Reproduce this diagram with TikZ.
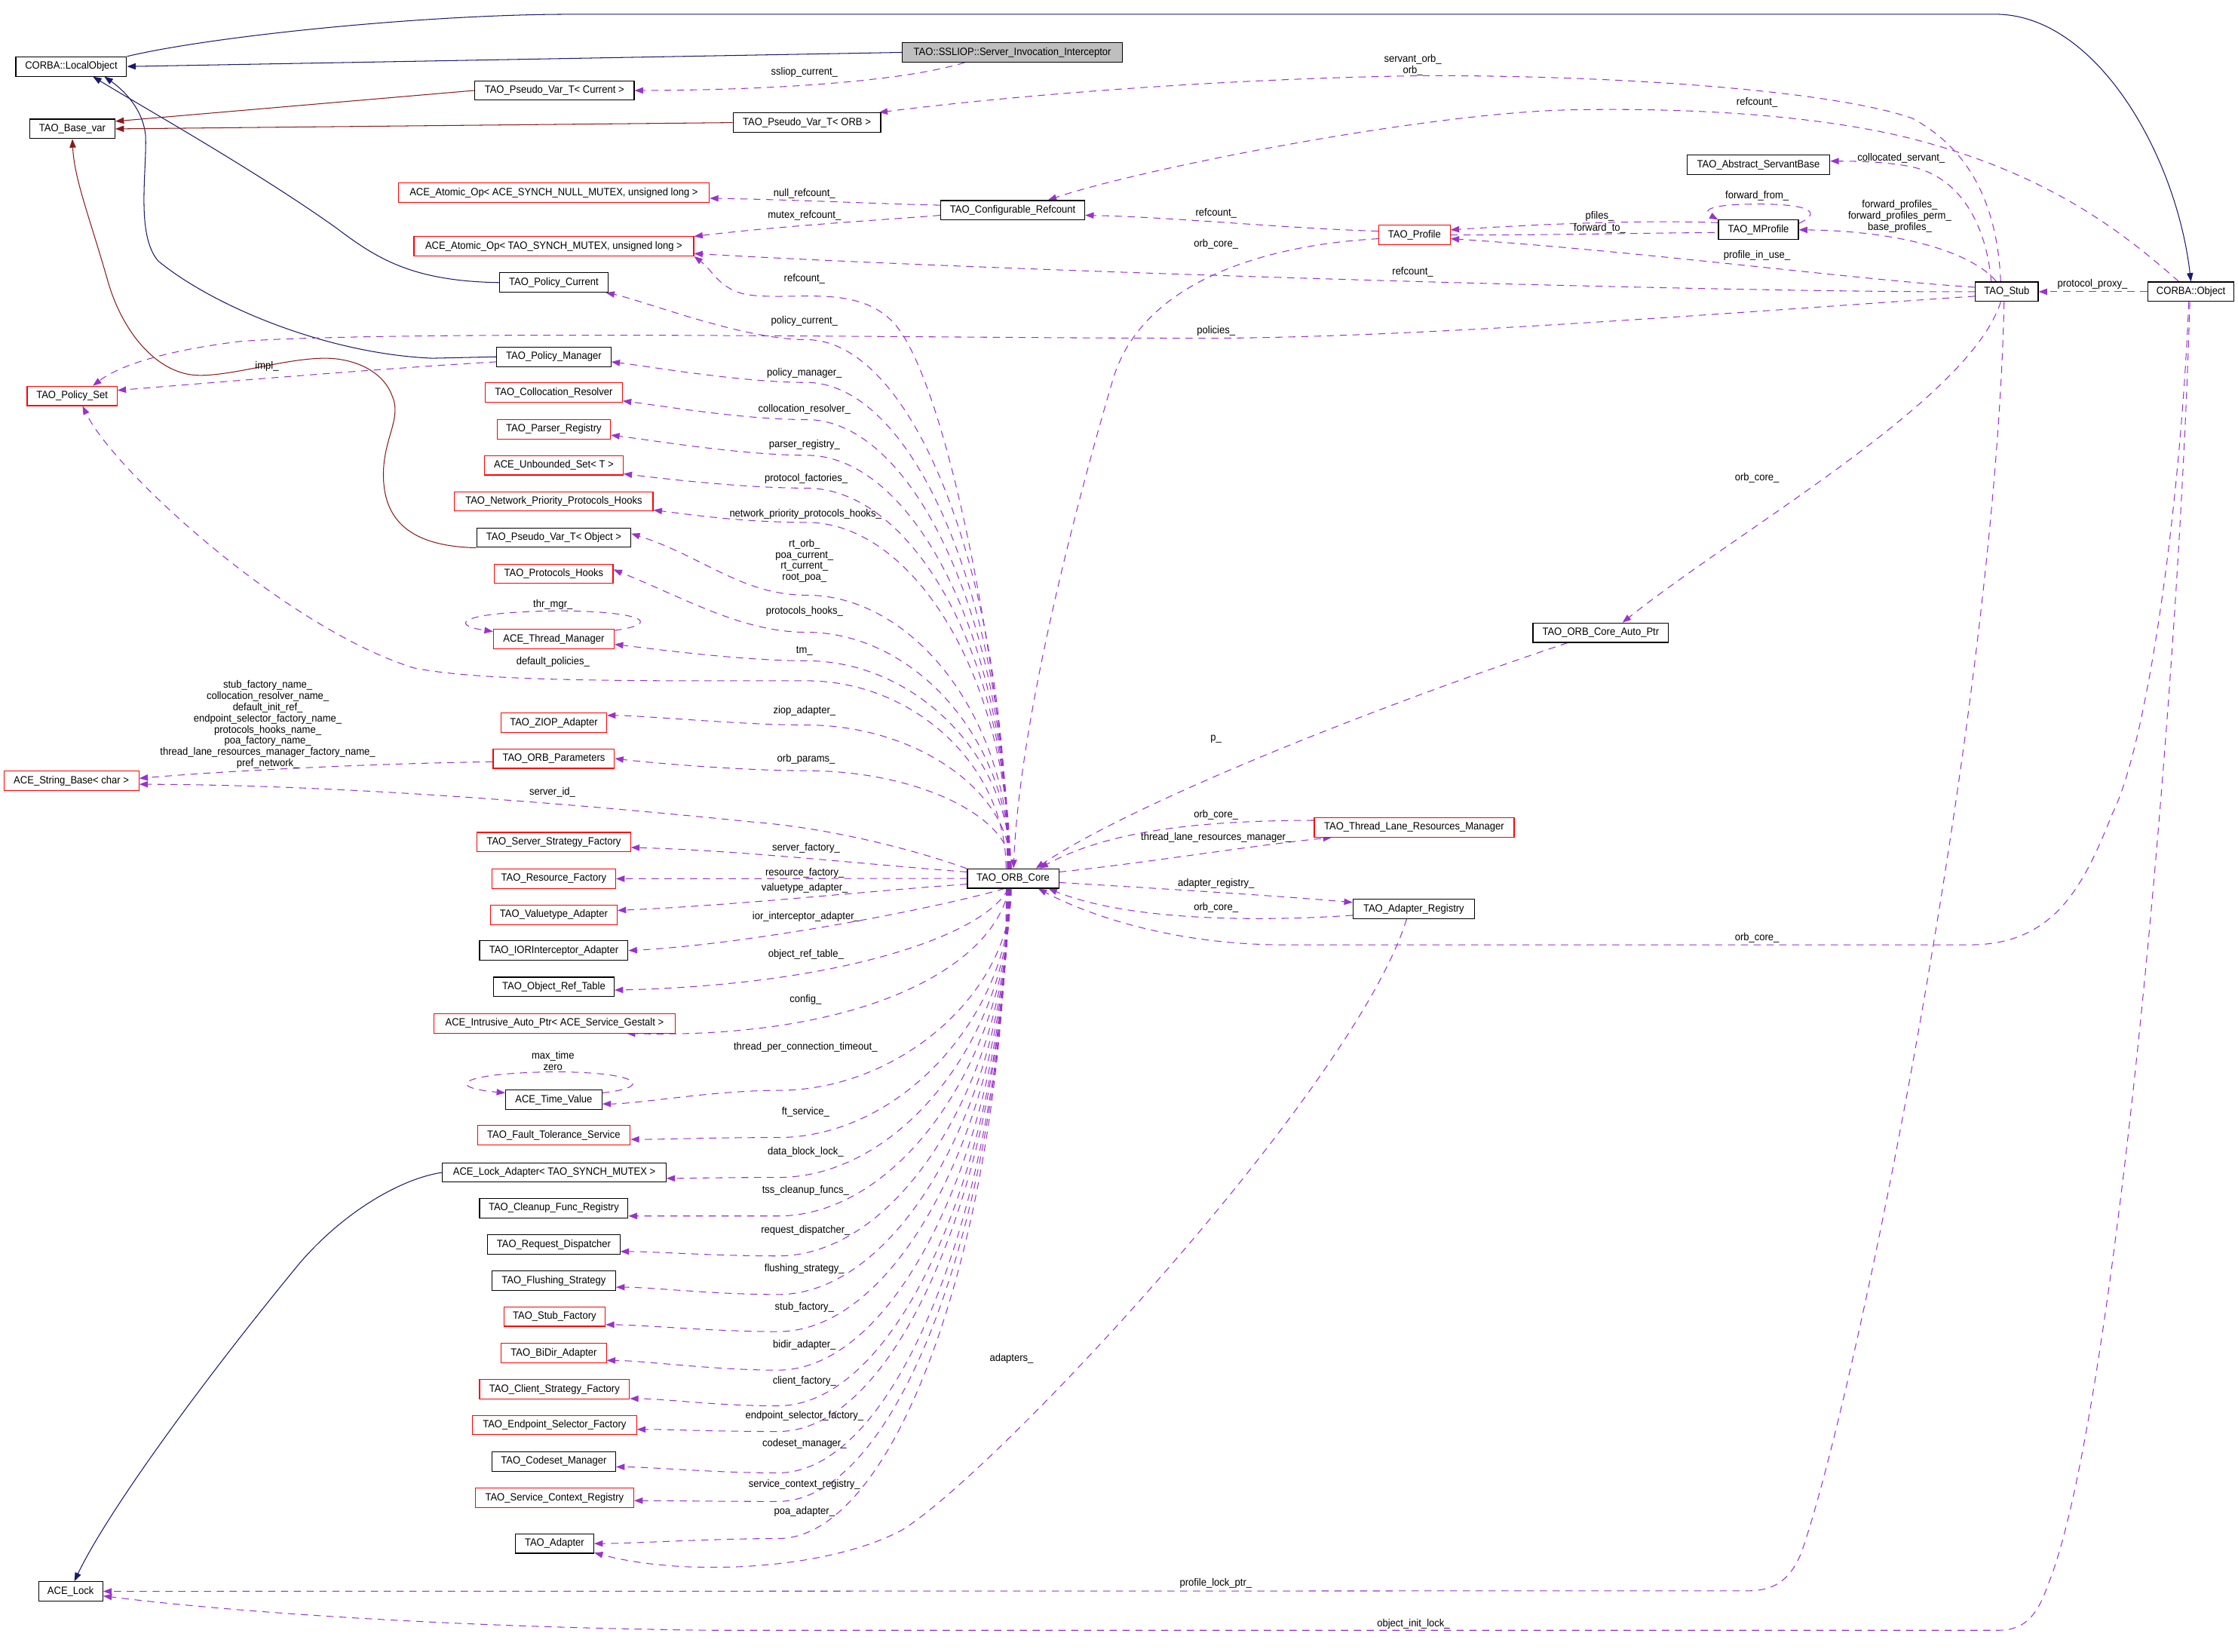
\documentclass[tikz,border=0pt]{standalone}
\usepackage{fontspec}
\newfontfamily\dfont{Liberation Sans}[FakeStretch=0.93]
\usetikzlibrary{arrows.meta,calc}
\definecolor{mblue}{HTML}{191970}
\definecolor{dred}{HTML}{8B1A1A}
\definecolor{orch}{HTML}{9A32CD}
\definecolor{gfill}{HTML}{BFBFBF}
\pgfdeclarelayer{bg}
\pgfdeclarelayer{edges}
\pgfsetlayers{bg,edges,main}
\newcommand{\oup}[4]{\draw[mem] (orb.#1) .. controls ($(orb.#1)+(0,{0.55*(608.6-#2)})$) and (640,-#2) .. (565,-#2) .. controls (520,-#2) and ($(#3)+(#4)$) .. (#3);}
\newcommand{\odown}[4]{\draw[mem] (orb.#1) .. controls ($(orb.#1)+(0,{-0.5*(#2-622.3)})$) and (632,-#2) .. (545,-#2) .. controls (500,-#2) and ($(#3)+(#4)$) .. (#3);}
\begin{document}
\begin{tikzpicture}[x=1pt,y=1pt,
  box/.style={draw=black, fill=white, line width=0.6pt, minimum height=13.6pt, inner xsep=1pt, inner ysep=0pt, font=\dfont\fontsize{7.4}{8}\selectfont},
  rbox/.style={box, draw=red},
  lab/.style={font=\dfont\fontsize{7.4}{7.8}\selectfont, inner sep=0pt, align=center},
  inhB/.style={draw=mblue, line width=0.55pt, -{Triangle[length=6pt,width=4.4pt]}},
  inhR/.style={draw=dred, line width=0.55pt, -{Triangle[length=6pt,width=4.4pt]}},
  mem/.style={draw=orch, line width=0.55pt, dash pattern=on 5pt off 4pt, -{Triangle[length=6pt,width=4.4pt]}}
]
\begin{pgfonlayer}{bg}
\fill[white] (0,0) rectangle (1568,-1157.5);
\end{pgfonlayer}
\useasboundingbox (0,0) rectangle (1568,-1157.5);

% ---------- nodes ----------
\node[box, minimum width=77.6pt] (lobj) at (49.9,-46.6) {CORBA::LocalObject};
\node[box, fill=gfill, minimum width=154pt] (ssliop) at (709.3,-36.7) {TAO::SSLIOP::Server\_Invocation\_Interceptor};
\node[box, minimum width=111.8pt] (pvcur) at (388.4,-63.4) {TAO\_Pseudo\_Var\_T< Current >};
\node[box, minimum width=59.6pt] (basevar) at (50.7,-90.3) {TAO\_Base\_var};
\node[box, minimum width=103.5pt] (pvorb) at (565.3,-85.9) {TAO\_Pseudo\_Var\_T< ORB >};
\node[rbox, minimum width=218pt] (aonull) at (388,-135.1) {ACE\_Atomic\_Op< ACE\_SYNCH\_NULL\_MUTEX, unsigned long >};
\node[rbox, minimum width=196pt] (aomutex) at (388,-172.5) {ACE\_Atomic\_Op< TAO\_SYNCH\_MUTEX, unsigned long >};
\node[box, minimum width=76pt] (polcur) at (388,-198) {TAO\_Policy\_Current};
\node[box, minimum width=80pt] (polmgr) at (388,-250) {TAO\_Policy\_Manager};
\node[rbox, minimum width=63pt] (polset) at (50.5,-277.4) {TAO\_Policy\_Set};
\node[rbox, minimum width=96pt] (collres) at (388,-275) {TAO\_Collocation\_Resolver};
\node[box, minimum width=101pt] (cfgref) at (709.5,-147.3) {TAO\_Configurable\_Refcount};
\node[rbox, minimum width=50pt] (profile) at (991,-164.6) {TAO\_Profile};
\node[box, minimum width=100pt] (servant) at (1232,-115.5) {TAO\_Abstract\_ServantBase};
\node[box, minimum width=56pt] (mprof) at (1232,-161) {TAO\_MProfile};
\node[box, minimum width=44pt] (stub) at (1406,-204.4) {TAO\_Stub};
\node[box, minimum width=60.5pt] (cobj) at (1535,-204.4) {CORBA::Object};
\node[rbox, minimum width=79.5pt] (parser) at (388,-300.7) {TAO\_Parser\_Registry};
\node[rbox, minimum width=97pt] (unbset) at (388,-326) {ACE\_Unbounded\_Set< T >};
\node[rbox, minimum width=139pt] (nethooks) at (388,-351.3) {TAO\_Network\_Priority\_Protocols\_Hooks};
\node[box, minimum width=108pt] (pvobj) at (388,-376.7) {TAO\_Pseudo\_Var\_T< Object >};
\node[rbox, minimum width=83pt] (prothooks) at (388,-402) {TAO\_Protocols\_Hooks};
\node[rbox, minimum width=84.6pt] (thrmgr) at (388,-447.7) {ACE\_Thread\_Manager};
\node[rbox, minimum width=74pt] (ziop) at (388,-506.5) {TAO\_ZIOP\_Adapter};
\node[rbox, minimum width=85pt] (orbparams) at (388,-531.5) {TAO\_ORB\_Parameters};
\node[rbox, minimum width=94.6pt] (strbase) at (50,-547) {ACE\_String\_Base< char >};
\node[rbox, minimum width=107.5pt] (srvstrat) at (388,-590) {TAO\_Server\_Strategy\_Factory};
\node[rbox, minimum width=86.6pt] (resfac) at (388,-615.7) {TAO\_Resource\_Factory};
\node[rbox, minimum width=88.6pt] (valtype) at (388,-641) {TAO\_Valuetype\_Adapter};
\node[box, minimum width=104pt] (iorint) at (388,-666) {TAO\_IORInterceptor\_Adapter};
\node[box, minimum width=84.5pt] (objref) at (388,-691.5) {TAO\_Object\_Ref\_Table};
\node[rbox, minimum width=169pt] (intrusive) at (388.5,-717) {ACE\_Intrusive\_Auto\_Ptr< ACE\_Service\_Gestalt >};
\node[box, minimum width=67.5pt] (timeval) at (388,-770.5) {ACE\_Time\_Value};
\node[rbox, minimum width=107pt] (ftserv) at (388,-795.5) {TAO\_Fault\_Tolerance\_Service};
\node[box, minimum width=156.6pt] (lockadp) at (388.3,-821.5) {ACE\_Lock\_Adapter< TAO\_SYNCH\_MUTEX >};
\node[box, minimum width=104pt] (cleanup) at (388,-846.5) {TAO\_Cleanup\_Func\_Registry};
\node[box, minimum width=92.6pt] (reqdisp) at (388,-872) {TAO\_Request\_Dispatcher};
\node[box, minimum width=86.7pt] (flush) at (388,-897.3) {TAO\_Flushing\_Strategy};
\node[rbox, minimum width=71pt] (stubfac) at (388.5,-922.5) {TAO\_Stub\_Factory};
\node[rbox, minimum width=73.6pt] (bidir) at (388,-948) {TAO\_BiDir\_Adapter};
\node[rbox, minimum width=105pt] (clifac) at (388.5,-973.5) {TAO\_Client\_Strategy\_Factory};
\node[rbox, minimum width=115pt] (endpt) at (388.5,-998.5) {TAO\_Endpoint\_Selector\_Factory};
\node[box, minimum width=86.7pt] (codeset) at (388,-1024) {TAO\_Codeset\_Manager};
\node[rbox, minimum width=111pt] (servctx) at (388.5,-1049.5) {TAO\_Service\_Context\_Registry};
\node[box, minimum width=55pt] (adapter) at (388.5,-1081.5) {TAO\_Adapter};
\node[box, minimum width=45pt] (acelock) at (49.5,-1115) {ACE\_Lock};
\node[box, minimum width=64pt] (orb) at (709.8,-615.5) {TAO\_ORB\_Core};
\node[rbox, minimum width=140pt] (tlrm) at (990.8,-579.7) {TAO\_Thread\_Lane\_Resources\_Manager};
\node[box, minimum width=85pt] (adreg) at (990.5,-636.8) {TAO\_Adapter\_Registry};
\node[box, minimum width=95pt] (autoptr) at (1121.5,-443.3) {TAO\_ORB\_Core\_Auto\_Ptr};

% ---------- labels ----------
\node[lab] (lssl) at (563.6,-50.6) {ssliop\_current\_};
\node[lab] (lsorb) at (989.8,-45.5) {servant\_orb\_\\orb\_};
\node[lab] (lrc1) at (1231,-72) {refcount\_};
\node[lab] (lcol) at (1332,-110.9) {collocated\_servant\_};
\node[lab] (lnull) at (563.6,-135.5) {null\_refcount\_};
\node[lab] (lfwf) at (1231,-137) {forward\_from\_};
\node[lab] (lmutex) at (563.6,-150.9) {mutex\_refcount\_};
\node[lab] (lrc2) at (852,-149.4) {refcount\_};
\node[lab] (lpf) at (1120.8,-151.3) {pfiles\_};
\node[lab] (lfwt) at (1120.8,-159.8) {forward\_to\_};
\node[lab] (lfp) at (1331,-151.5) {forward\_profiles\_\\forward\_profiles\_perm\_\\base\_profiles\_};
\node[lab] (loc1) at (852,-171) {orb\_core\_};
\node[lab] (lrc3) at (989.8,-190.5) {refcount\_};
\node[lab] (lpiu) at (1230.9,-179.2) {profile\_in\_use\_};
\node[lab] (lrc4) at (563.6,-195.6) {refcount\_};
\node[lab] (lpp) at (1466,-199) {protocol\_proxy\_};
\node[lab] (lpc) at (563.6,-225) {policy\_current\_};
\node[lab] (lpol) at (852,-232) {policies\_};
\node[lab] (limpl) at (187,-256.6) {impl\_};
\node[lab] (lpm) at (563.6,-261.3) {policy\_manager\_};
\node[lab] (lcr) at (563.6,-286.8) {collocation\_resolver\_};
\node[lab] (lprs) at (563.6,-311.7) {parser\_registry\_};
\node[lab] (lpf2) at (564.8,-335.3) {protocol\_factories\_};
\node[lab] (lnph) at (564.3,-360.2) {network\_priority\_protocols\_hooks\_};
\node[lab] (lrto) at (563.6,-393) {rt\_orb\_\\poa\_current\_\\rt\_current\_\\root\_poa\_};
\node[lab] (loc5) at (1231,-334.7) {orb\_core\_};
\node[lab] (lph) at (563.6,-428.3) {protocols\_hooks\_};
\node[lab] (lthr) at (387.4,-423.5) {thr\_mgr\_};
\node[lab] (ltm) at (563.6,-456) {tm\_};
\node[lab] (ldp) at (387.4,-464) {default\_policies\_};
\node[lab] (lsfn) at (187.6,-507.7) {stub\_factory\_name\_\\collocation\_resolver\_name\_\\default\_init\_ref\_\\endpoint\_selector\_factory\_name\_\\protocols\_hooks\_name\_\\poa\_factory\_name\_\\thread\_lane\_resources\_manager\_factory\_name\_\\pref\_network\_};
\node[lab] (lziop) at (563.6,-498) {ziop\_adapter\_};
\node[lab] (lp) at (852,-517.7) {p\_};
\node[lab] (lop) at (564.8,-531.9) {orb\_params\_};
\node[lab] (lsid) at (387,-555) {server\_id\_};
\node[lab] (loc2) at (852,-571) {orb\_core\_};
\node[lab] (ltlrm) at (852,-586.7) {thread\_lane\_resources\_manager\_};
\node[lab] (lsf) at (564.7,-594.5) {server\_factory\_};
\node[lab] (lrf) at (563.8,-611.5) {resource\_factory\_};
\node[lab] (lva) at (563.8,-622) {valuetype\_adapter\_};
\node[lab] (lar) at (852,-619) {adapter\_registry\_};
\node[lab] (loc3) at (852,-636) {orb\_core\_};
\node[lab] (lior) at (564.7,-642.2) {ior\_interceptor\_adapter\_};
\node[lab] (loc4) at (1231,-657) {orb\_core\_};
\node[lab] (lort) at (564.7,-669) {object\_ref\_table\_};
\node[lab] (lcfg) at (564.4,-700.3) {config\_};
\node[lab] (ltpc) at (564.4,-733.9) {thread\_per\_connection\_timeout\_};
\node[lab] (lmax) at (387.4,-743.5) {max\_time\\zero};
\node[lab] (lft) at (564.4,-779) {ft\_service\_};
\node[lab] (ldbl) at (564.4,-807) {data\_block\_lock\_};
\node[lab] (ltss) at (564.4,-834.3) {tss\_cleanup\_funcs\_};
\node[lab] (lrd) at (564.4,-862) {request\_dispatcher\_};
\node[lab] (lfs) at (563.6,-889) {flushing\_strategy\_};
\node[lab] (lstf) at (563.6,-916) {stub\_factory\_};
\node[lab] (lbd) at (563.6,-942.3) {bidir\_adapter\_};
\node[lab] (lads) at (708.7,-952) {adapters\_};
\node[lab] (lcf) at (563.6,-967.6) {client\_factory\_};
\node[lab] (lesf) at (563.6,-991.9) {endpoint\_selector\_factory\_};
\node[lab] (lcm) at (563.6,-1011.6) {codeset\_manager\_};
\node[lab] (lscr) at (563.6,-1040) {service\_context\_registry\_};
\node[lab] (lpoa) at (563.6,-1059) {poa\_adapter\_};
\node[lab] (lplp) at (851.8,-1109.5) {profile\_lock\_ptr\_};
\node[lab] (loil) at (990.3,-1138) {object\_init\_lock\_};

\begin{pgfonlayer}{edges}
% ---------- inheritance ----------
\draw[inhB] (ssliop.west) -- (lobj.east);
\draw[inhB] (lobj.north east) .. controls (150,-25) and (300,-10) .. (400,-10) -- (1400,-10) .. controls (1470,-12) and (1525,-110) .. (cobj.north);
\draw[inhB] (polcur.west) .. controls (290,-197) and (265,-182) .. (236,-160) .. controls (180,-120) and (100,-75) .. (lobj.-25);
\draw[inhB] (polmgr.west) -- (303,-251) .. controls (230,-248) and (150,-215) .. (111,-183) .. controls (95,-165) and (103,-120) .. (102,-95) .. controls (100,-75) and (85,-62) .. (lobj.-17);
\draw[inhR] (pvcur.west) -- (basevar.10);
\draw[inhR] (pvorb.west) -- (basevar.east);
\draw[inhR] (pvobj.south west) .. controls (295,-383) and (272,-370) .. (269,-340) .. controls (266,-310) and (282,-295) .. (275,-278) .. controls (268,-258) and (245,-251) .. (228,-251) .. controls (200,-251) and (165,-263) .. (140,-263) .. controls (110,-263) and (85,-232) .. (75,-195) .. controls (62,-150) and (52,-125) .. (basevar.south);
\draw[inhB] (lockadp.west) .. controls (280,-826) and (240,-850) .. (210,-885) .. controls (140,-970) and (75,-1060) .. (acelock.70);

% ---------- usage ----------
\draw[mem] (ssliop.-168) .. controls (640,-55) and (560,-63) .. (pvcur.east);
\draw[mem] (stub.121) .. controls (1400,-160) and (1390,-110) .. (1340,-83) .. controls (1290,-65) and (1150,-53) .. (1000,-53) .. controls (850,-55) and (700,-68) .. (pvorb.8);
\draw[mem] (cobj.140) .. controls (1490,-165) and (1440,-125) .. (1350,-100) .. controls (1290,-83) and (1200,-75) .. (1100,-77) .. controls (1000,-79) and (800,-118) .. (cfgref.16);
\draw[mem] (cfgref.176) .. controls (620,-143) and (560,-140) .. (aonull.-2);
\draw[mem] (cfgref.184) .. controls (620,-154) and (550,-158) .. (aomutex.4);
\draw[mem] (profile.174) .. controls (900,-160) and (820,-152) .. (cfgref.-4);
\draw[mem] (profile.186) .. controls (880,-172) and (800,-200) .. (780,-265) .. controls (755,-350) and (715,-500) .. (orb.88);
\draw[mem] (stub.west) .. controls (1200,-205) and (700,-190) .. (aomutex.-3);
\draw[mem] (orb.100) .. controls (700,-450) and (660,-260) .. (625,-225) .. controls (600,-200) and (560,-210) .. (528,-207) .. controls (505,-205) and (500,-190) .. (aomutex.south east);
\draw[mem] (stub.172) .. controls (1300,-196) and (1150,-176) .. (profile.-6);
\draw[mem] (mprof.170) .. controls (1150,-154) and (1080,-157) .. (profile.8);
\draw[mem] (profile.east) .. controls (1080,-165) and (1150,-163) .. (mprof.-3);
\draw[mem] (mprof.9) .. controls (1275,-150) and (1272,-143) .. (1232,-143) .. controls (1195,-143) and (1193,-148) .. (mprof.166);
\draw[mem] (stub.136) .. controls (1385,-180) and (1340,-162) .. (mprof.east);
\draw[mem] (stub.147) .. controls (1392,-160) and (1375,-125) .. (1340,-117) .. controls (1320,-113) and (1300,-113) .. (servant.3);
\draw[mem] (cobj.west) -- (stub.east);
\draw[mem] (stub.188) .. controls (1200,-220) and (1000,-236) .. (850,-237) .. controls (650,-237) and (300,-231) .. (170,-239) .. controls (120,-245) and (85,-255) .. (polset.26);
\draw[mem] (polmgr.-175) .. controls (270,-258) and (150,-268) .. (polset.7);

% ORB_Core fan, upper side
\oup{120}{238}{polcur.-11}{25,-5}
\oup{118}{268}{polmgr.-5}{25,-3}
\oup{116}{294}{collres.-7}{25,-3}
\oup{114}{319}{parser.-6}{25,-3}
\oup{112}{342}{unbset.-7}{25,-3}
\oup{110}{366}{nethooks.-5}{25,-3}
\oup{108}{417}{pvobj.3}{50,-16}
\oup{106}{443}{prothooks.4}{50,-20}
\oup{104}{463}{thrmgr.-5}{25,-3}
\oup{102}{508}{ziop.8}{25,0}
\oup{100}{540}{orbparams.east}{25,-3}
\draw[mem] (orb.125) .. controls ($(orb.125)+(0,72)$) and (640,-477) .. (565,-477) .. controls (450,-477) and (340,-478) .. (290,-468) .. controls (200,-440) and (80,-330) .. (polset.-44);

% ORB_Core fan, left side
\draw[mem] (orb.168) .. controls (640,-595) and (580,-580) .. (528,-576) .. controls (420,-565) and (250,-550) .. (strbase.-3);
\draw[mem] (orb.172) .. controls (600,-605) and (520,-596) .. (srvstrat.-4);
\draw[mem] (orb.west) -- (resfac.east);
\draw[mem] (orb.-173) .. controls (600,-625) and (520,-634) .. (valtype.4);
\draw[mem] (orb.-130) .. controls (650,-638) and (520,-662) .. (iorint.east);
\draw[mem] (orb.-115) .. controls (690,-655) and (590,-690) .. (objref.-3);
\draw[mem] (orb.-112) .. controls (695,-680) and (600,-728) .. (intrusive.-8);

% ORB_Core fan, lower side
\odown{-100}{764}{timeval.-5}{25,0}
\odown{-102}{797}{ftserv.-3}{25,0}
\odown{-104}{825}{lockadp.-3}{15,0}
\odown{-106}{852}{cleanup.-6}{25,0}
\odown{-108}{880}{reqdisp.-6}{25,0}
\odown{-110}{907}{flush.-6}{25,0}
\odown{-112}{933}{stubfac.-9}{25,0}
\odown{-114}{960}{bidir.-8}{25,0}
\odown{-116}{985}{clifac.-7}{25,0}
\odown{-118}{1003}{endpt.-3}{25,0}
\odown{-120}{1032}{codeset.-5}{25,0}
\odown{-122}{1052}{servctx.-2}{25,0}
\odown{-124}{1078}{adapter.east}{25,0}

% self loops
\draw[mem] (thrmgr.8) .. controls (465,-437) and (450,-428) .. (390,-428) .. controls (320,-429) and (315,-438) .. (thrmgr.173);
\draw[mem] (timeval.8) .. controls (458,-762) and (450,-751) .. (387,-751) .. controls (320,-752) and (312,-762) .. (timeval.172);

% ORB parameters -> string base
\draw[mem] (orbparams.-177) .. controls (260,-535) and (160,-540) .. (strbase.2);

% right side
\draw[mem] (autoptr.-163) .. controls (950,-500) and (790,-565) .. (orb.24);
\draw[mem] (tlrm.176) .. controls (850,-575) and (780,-580) .. (orb.21);
\draw[mem] (orb.8) .. controls (800,-605) and (880,-592) .. (tlrm.-173);
\draw[mem] (orb.-5) .. controls (820,-623) and (900,-628) .. (adreg.174);
\draw[mem] (adreg.-174) .. controls (880,-646) and (790,-645) .. (orb.-16);
\draw[mem] (cobj.-102) .. controls (1528,-350) and (1505,-520) .. (1480,-570) .. controls (1460,-620) and (1440,-662) .. (1380,-662) -- (900,-662) .. controls (820,-662) and (760,-640) .. (orb.-22);
\draw[mem] (stub.-121) .. controls (1380,-280) and (1220,-370) .. (autoptr.25);
\draw[mem] (stub.-105) .. controls (1398,-500) and (1300,-980) .. (1262,-1088) .. controls (1255,-1105) and (1245,-1114.6) .. (1225,-1114.6) -- (acelock.east);
\draw[mem] (cobj.-96) .. controls (1526,-500) and (1480,-1000) .. (1435,-1110) .. controls (1428,-1130) and (1420,-1142.3) .. (1400,-1142.3) -- (500,-1142.3) .. controls (300,-1140) and (150,-1128) .. (acelock.-8);
\draw[mem] (adreg.-125) .. controls (950,-760) and (700,-1030) .. (632,-1072) .. controls (580,-1100) and (480,-1105) .. (adapter.-13);
\end{pgfonlayer}
\end{tikzpicture}
\end{document}
